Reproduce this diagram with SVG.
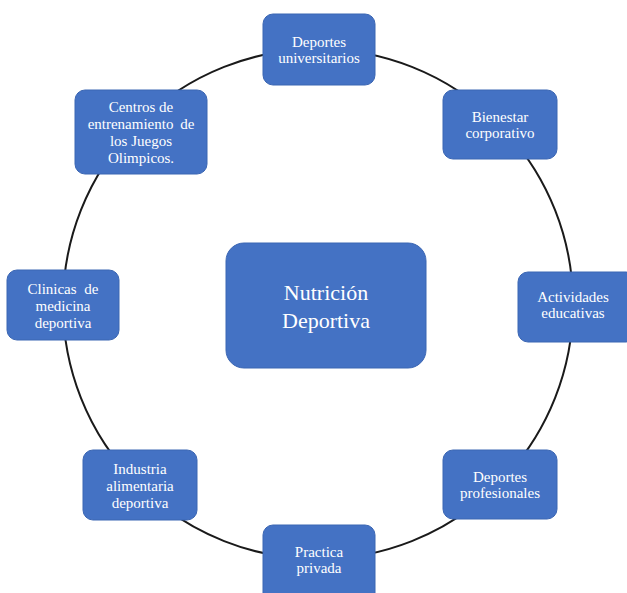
<svg xmlns="http://www.w3.org/2000/svg" width="627" height="593" viewBox="0 0 627 593">
<style>
.box{fill:#4472C4;stroke:#3B66B3;stroke-width:1}
.t{fill:#ffffff;font-family:"Liberation Serif","Times New Roman",serif;font-size:15px;text-anchor:middle}
.big{font-size:22px}
</style>
<rect width="627" height="593" fill="#ffffff"/>
<g id="connectors">
<circle cx="318" cy="304" r="255" fill="none" stroke="#1a1a1a" stroke-width="2"/>
</g>
<g id="center">
<rect class="box" x="226" y="243" width="200" height="125" rx="18"/>
<text class="t big" x="326" y="300">Nutrición</text>
<text class="t big" x="326" y="328">Deportiva</text>
</g>
<g id="n-universitarios">
<rect class="box" x="263" y="14" width="112" height="71" rx="10"/>
<text class="t" x="319" y="47">Deportes</text>
<text class="t" x="319" y="63">universitarios</text>
</g>
<g id="n-bienestar">
<rect class="box" x="443" y="90" width="114" height="69" rx="10"/>
<text class="t" x="500" y="122">Bienestar</text>
<text class="t" x="500" y="138">corporativo</text>
</g>
<g id="n-actividades">
<rect class="box" x="518" y="272" width="118" height="70" rx="10"/>
<text class="t" x="573" y="302">Actividades</text>
<text class="t" x="573" y="318">educativas</text>
</g>
<g id="n-profesionales">
<rect class="box" x="443" y="450" width="114" height="69" rx="10"/>
<text class="t" x="500" y="482">Deportes</text>
<text class="t" x="500" y="498">profesionales</text>
</g>
<g id="n-privada">
<rect class="box" x="263" y="525" width="112" height="80" rx="10"/>
<text class="t" x="319" y="557">Practica</text>
<text class="t" x="319" y="573">privada</text>
</g>
<g id="n-industria">
<rect class="box" x="83" y="450" width="114" height="70" rx="10"/>
<text class="t" x="140" y="474">Industria</text>
<text class="t" x="140" y="491">alimentaria</text>
<text class="t" x="140" y="508">deportiva</text>
</g>
<g id="n-clinicas">
<rect class="box" x="7" y="270" width="112" height="70" rx="10"/>
<text class="t" x="63" y="294" word-spacing="4">Clinicas de</text>
<text class="t" x="63" y="311">medicina</text>
<text class="t" x="63" y="328">deportiva</text>
</g>
<g id="n-centros">
<rect class="box" x="75" y="90" width="132" height="84" rx="10"/>
<text class="t" x="141" y="112">Centros de</text>
<text class="t" x="141" y="129" word-spacing="3">entrenamiento de</text>
<text class="t" x="141" y="146">los Juegos</text>
<text class="t" x="141" y="163">Olimpicos.</text>
</g>
</svg>
